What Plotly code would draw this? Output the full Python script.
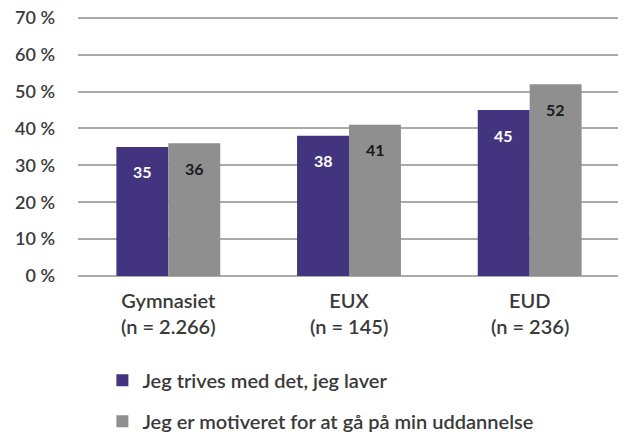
import plotly.graph_objects as go

categories = ["Gymnasiet", "EUX", "EUD"]
n_labels = ["(n = 2.266)", "(n = 145)", "(n = 236)"]
series_names = ["Jeg trives med det, jeg laver", "Jeg er motiveret for at gå på min uddannelse"]
trives = [35, 38, 45]
motiveret = [36, 41, 52]
tick_vals = [0, 10, 20, 30, 40, 50, 60, 70]
tick_text = ["0 %", "10 %", "20 %", "30 %", "40 %", "50 %", "60 %", "70 %"]

purple = "#42347F"
grey = "#8F8F8F"
font = "Lato"
txt = "#3a3a3a"

fig = go.Figure()
fig.add_trace(go.Bar(x=categories, y=trives, name=series_names[0], marker_color=purple,
                     marker_line_width=0, legendgroup="a"))
fig.add_trace(go.Bar(x=categories, y=motiveret, name=series_names[1], marker_color=grey,
                     marker_line_width=0, legendgroup="b"))

for vals, shift, col in [(trives, -26, "white"), (motiveret, 26, "#1a1a1a")]:
    for c, v in zip(categories, vals):
        fig.add_annotation(x=c, y=v, text=f"<b>{v}</b>", showarrow=False, xref="x", yref="y",
                           xshift=shift, yshift=-25, font=dict(family=font, size=16, color=col))

for c, n in zip(categories, n_labels):
    fig.add_annotation(x=c, y=0, xref="x", yref="paper", text=n, showarrow=False,
                       yanchor="middle", yshift=-50,
                       font=dict(family=font, size=20, color=txt, weight=600))

fig.update_layout(
    width=618, height=426,
    margin=dict(l=70, r=6, t=8, b=158, autoexpand=False),
    paper_bgcolor="white", plot_bgcolor="white",
    barmode="group", bargap=0.425, bargroupgap=0.0,
    font=dict(family=font, size=18, color=txt),
    legend=dict(orientation="v", x=0.045, xanchor="left", y=-0.326, yanchor="top",
                traceorder="grouped", tracegroupgap=12,
                font=dict(size=20, color=txt, weight=600), itemwidth=30),
    showlegend=True,
)
fig.update_yaxes(range=[0, 70.5], tickvals=tick_vals, ticktext=tick_text, showgrid=True,
                 gridcolor="#AAAAAA", gridwidth=2, zeroline=True, zerolinecolor="#AAAAAA",
                 zerolinewidth=2, tickfont=dict(size=18, color=txt, family=font, weight=600),
                 ticklabelstandoff=22, ticklabeloverflow="allow", showline=False, automargin=False)
fig.update_xaxes(showline=False, tickfont=dict(size=20, color=txt, family=font, weight=600),
                 ticks="", ticklabelstandoff=11, automargin=False)

fig.write_html("out.html")
